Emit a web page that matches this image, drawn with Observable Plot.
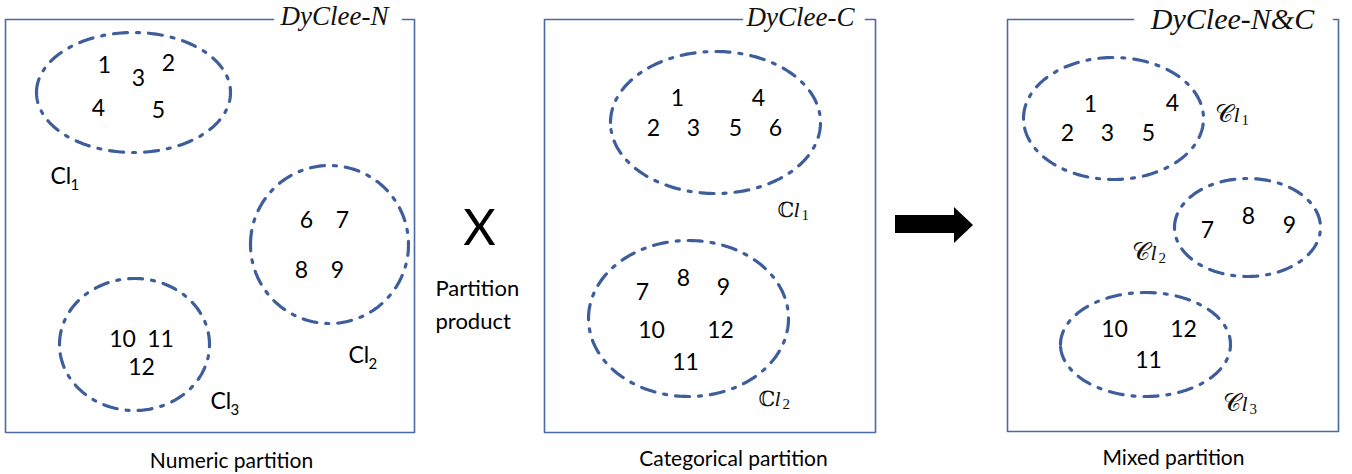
<!DOCTYPE html>
<html>
<head>
<meta charset="utf-8">
<script src="https://cdn.jsdelivr.net/npm/d3@7"></script>
<script src="https://cdn.jsdelivr.net/npm/@observablehq/plot@0.6"></script>
<style>
  html, body { margin: 0; padding: 0; background: #fff; }
  #chart svg { display: block; }
</style>
</head>
<body>
<div id="chart"></div>
<script>
// ---- Panels (boxes with titles) ----
const panelTitles = ["DyClee-N", "DyClee-C", "DyClee-N&C"];
const panelCaptions = ["Numeric partition", "Categorical partition", "Mixed partition"];
const boxLeft = [5, 544, 1007];
const boxRight = [414, 875, 1338];
const boxTop = [19, 19, 19];
const boxBottom = [432, 432, 431];
const titleGapLeft = [273, 742, 1133];
const titleGapRight = [402, 865, 1333];
const titleX = [334, 800, 1232];
const titleY = [24, 25, 28];
const titleSize = [27, 27, 30];
const captionX = [231, 733, 1173];
const captionY = [467, 465, 464];

// ---- Clusters (dash-dot ellipses) ----
const clusterNames = ["Cl1", "Cl2", "Cl3", "CCl1", "CCl2", "MCl1", "MCl2", "MCl3"];
const clusterCx = [133, 329, 134, 715, 688, 1113, 1247, 1145];
const clusterCy = [92, 244, 344, 122, 318, 118, 227, 344];
const clusterRx = [97, 79, 75, 105, 100, 90, 73, 85];
const clusterRy = [60, 79, 66, 71, 78, 61, 49, 52];

// ---- Cluster labels ----
const sansLabelText = ["Cl", "Cl", "Cl"];
const sansLabelSub = ["1", "2", "3"];
const sansLabelX = [50, 348, 210];
const sansLabelY = [183, 362, 408];

const mathLabelGlyph = ["\u2102", "\u2102", "\uD835\uDC9E", "\uD835\uDC9E", "\uD835\uDC9E"];
const mathLabelSub = ["1", "2", "1", "2", "3"];
const mathLabelX = [777, 758, 1214, 1131, 1222];
const mathLabelY = [216, 405, 121, 259, 410];

// ---- Object numbers ----
const objText = [
  "1","2","3","4","5","6","7","8","9","10","11","12",
  "1","4","2","3","5","6","7","8","9","10","12","11",
  "1","4","2","3","5","7","8","9","10","12","11"
];
const objX = [
  104,168,138,98,158,306,342,301,337,122,160,141,
  677,758,653,693,735,775,642,683,723,651,720,685,
  1090,1172,1067,1107,1148,1207,1248,1289,1114,1183,1148
];
const objY = [
  65,63,78,108,110,220,220,270,270,339,339,367,
  98,98,128,128,128,128,292,278,287,330,330,362,
  104,103,133,133,133,230,216,225,329,329,360
];

// ---- Operator text ----
const opSymbol = ["X"];
const opSymbolX = [479];
const opSymbolY = [244];
const opWords = ["Partition", "product"];
const opWordsX = [435, 435];
const opWordsY = [295, 328];

// ---- Block arrow ----
const arrowBody = [{x1: 895, x2: 955, y1: 215, y2: 233}];
const arrowHead = [{x: 954, y1: 207, y2: 243}, {x: 973, y1: 225, y2: 225}];

// ---- Build derived tables ----
const boxPaths = [];
panelTitles.forEach((t, i) => {
  const pts = [
    [titleGapRight[i], boxTop[i]], [boxRight[i], boxTop[i]],
    [boxRight[i], boxBottom[i]], [boxLeft[i], boxBottom[i]],
    [boxLeft[i], boxTop[i]], [titleGapLeft[i], boxTop[i]]
  ];
  pts.forEach(([x, y]) => boxPaths.push({x, y, panel: t}));
});

const ellipsePts = [];
clusterNames.forEach((n, i) => {
  const N = 240;
  for (let k = 0; k <= N; k++) {
    const a = Math.PI + (2 * Math.PI * k) / N;
    ellipsePts.push({
      id: n,
      x: clusterCx[i] + clusterRx[i] * Math.cos(a),
      y: clusterCy[i] + clusterRy[i] * Math.sin(a)
    });
  }
});

const isBB = (t) => t === "\u2102";
const titles = panelTitles.map((t, i) => ({t, x: titleX[i], y: titleY[i], s: titleSize[i]}));
const captions = panelCaptions.map((t, i) => ({t, x: captionX[i], y: captionY[i]}));
const objs = objText.map((t, i) => ({t, x: objX[i], y: objY[i]}));
const sansLabels = sansLabelText.map((t, i) => ({t, sub: sansLabelSub[i], x: sansLabelX[i], y: sansLabelY[i]}));
const mathLabels = mathLabelGlyph.map((t, i) => ({t, sub: mathLabelSub[i], x: mathLabelX[i], y: mathLabelY[i],
  wide: isBB(t) ? 16 : 19, gs: isBB(t) ? 21 : 25}));
const symbols = opSymbol.map((t, i) => ({t, x: opSymbolX[i], y: opSymbolY[i]}));
const words = opWords.map((t, i) => ({t, x: opWordsX[i], y: opWordsY[i]}));

const BOX = "#4a6aa6";
const ELL = "#3e5d9b";
const SANS = "Lato, 'Open Sans', sans-serif";
const SERIF = "'Liberation Serif', 'DejaVu Serif', serif";
const MATH = "'DejaVu Serif', 'DejaVu Sans', serif";

const chart = Plot.plot({
  width: 1352,
  height: 474,
  margin: 0,
  x: {domain: [0, 1352], range: [0, 1352], axis: null},
  y: {domain: [0, 474], range: [0, 474], axis: null},
  style: {background: "#fff"},
  marks: [
    Plot.line(boxPaths, {x: "x", y: "y", z: "panel", stroke: BOX, strokeWidth: 1.6, curve: "linear"}),
    Plot.line(ellipsePts, {x: "x", y: "y", z: "id", stroke: ELL, strokeWidth: 3.2,
      strokeDasharray: "14,9,3,9", curve: "linear"}),
    Plot.text(titles, {x: "x", y: "y", text: "t", fontSize: "s", fontFamily: SERIF,
      fontStyle: "italic", lineAnchor: "bottom", textAnchor: "middle", fill: "#111"}),
    Plot.text(captions, {x: "x", y: "y", text: "t", fontSize: 21, fontFamily: SANS,
      lineAnchor: "bottom", textAnchor: "middle", fill: "#000"}),
    Plot.text(objs, {x: "x", y: "y", text: "t", fontSize: 23, fontFamily: SANS,
      lineAnchor: "middle", textAnchor: "middle", fill: "#000"}),
    Plot.text(symbols, {x: "x", y: "y", text: "t", fontSize: 50, fontFamily: SANS,
      lineAnchor: "bottom", textAnchor: "middle", fill: "#000"}),
    Plot.text(words, {x: "x", y: "y", text: "t", fontSize: 22, fontFamily: SANS,
      lineAnchor: "bottom", textAnchor: "start", fill: "#000"}),
    // cluster labels: sans (numeric panel)
    Plot.text(sansLabels, {x: "x", y: "y", text: "t", fontSize: 23, fontFamily: SANS,
      lineAnchor: "bottom", textAnchor: "start", fill: "#000"}),
    Plot.text(sansLabels, {x: "x", y: "y", text: "sub", fontSize: 15, fontFamily: SANS,
      lineAnchor: "bottom", textAnchor: "start", dx: 20, dy: 6, fill: "#000"}),
    // cluster labels: math (categorical, mixed)
    Plot.text(mathLabels, {x: "x", y: "y", text: "t", fontSize: "gs", fontFamily: MATH,
      lineAnchor: "bottom", textAnchor: "start", fill: "#111"}),
    Plot.text(mathLabels, {x: (d) => d.x + d.wide, y: "y", text: () => "l", fontSize: 22, fontFamily: SERIF,
      fontStyle: "italic", lineAnchor: "bottom", textAnchor: "start", fill: "#111"}),
    Plot.text(mathLabels, {x: (d) => d.x + d.wide + 8, y: "y", text: "sub", fontSize: 15, fontFamily: SERIF,
      lineAnchor: "bottom", textAnchor: "start", dy: 3, fill: "#111"}),
    // block arrow
    Plot.rect(arrowBody, {x1: "x1", x2: "x2", y1: "y1", y2: "y2", fill: "#000"}),
    Plot.areaY(arrowHead, {x: "x", y1: "y1", y2: "y2", fill: "#000", curve: "linear"})
  ]
});
document.getElementById("chart").appendChild(chart);
</script>
</body>
</html>
